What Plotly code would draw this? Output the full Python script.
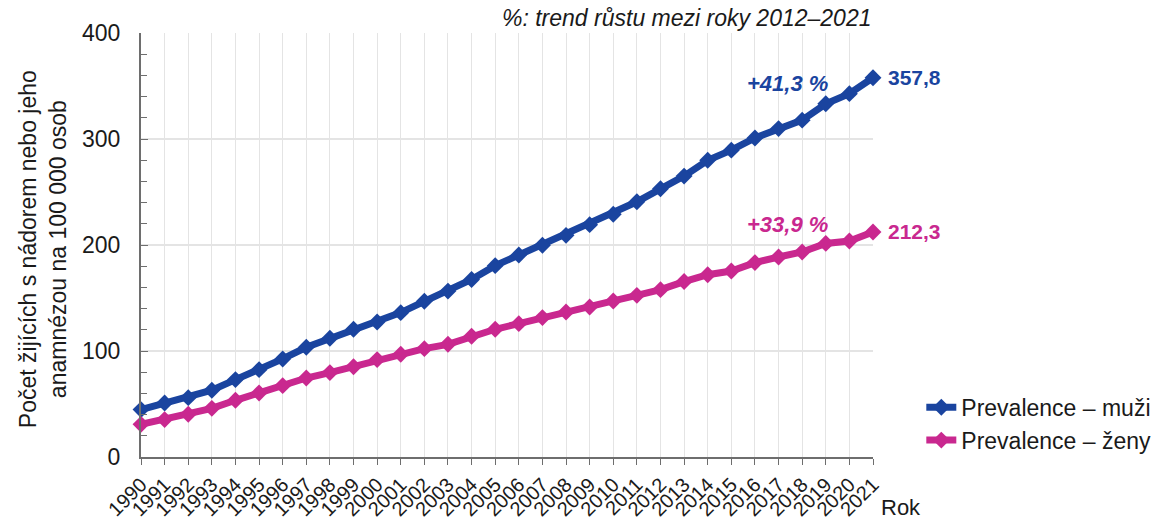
import plotly.graph_objects as go

years = list(range(1990, 2022))

prevalence_muzi = [44.7, 51.0, 56.0, 63.0, 73.0, 82.4, 92.5, 103.5, 112.0, 120.5,
                   127.4, 136.2, 146.9, 156.5, 167.5, 180.5, 190.5, 199.7, 209.1, 219.2,
                   229.0, 240.8, 253.0, 265.0, 279.9, 289.5, 301.0, 309.8, 317.8, 333.2,
                   342.8, 357.8]

prevalence_zeny = [30.8, 35.3, 40.3, 45.9, 53.5, 60.4, 67.3, 74.5, 79.6, 85.2,
                   91.9, 96.9, 102.2, 106.3, 113.9, 120.5, 125.8, 131.5, 136.8, 141.5,
                   147.2, 152.5, 157.9, 165.5, 172.0, 175.5, 183.4, 188.7, 193.4, 201.5,
                   203.8, 212.3]

trend_muzi = "+41,3 %"
trend_zeny = "+33,9 %"

BLUE = "#1A449F"
PINK = "#C9288F"
TEXT = "#1a1a1a"
FONT = "Arial, Liberation Sans, sans-serif"


def cz(v):
    return f"{v:.1f}".replace(".", ",")


fig = go.Figure()
fig.add_trace(go.Scatter(
    x=years, y=prevalence_muzi, mode="lines+markers", name="Prevalence – muži",
    line=dict(color=BLUE, width=7), marker=dict(symbol="diamond", size=13, color=BLUE),
    cliponaxis=False))
fig.add_trace(go.Scatter(
    x=years, y=prevalence_zeny, mode="lines+markers", name="Prevalence – ženy",
    line=dict(color=PINK, width=7), marker=dict(symbol="diamond", size=13, color=PINK),
    cliponaxis=False))

annotations = [
    dict(x=years[-1], y=prevalence_muzi[-1], text=f"<b>{cz(prevalence_muzi[-1])}</b>",
         xanchor="left", yanchor="middle", xshift=13, showarrow=False,
         font=dict(size=21, color=BLUE, family=FONT)),
    dict(x=years[-1], y=prevalence_zeny[-1], text=f"<b>{cz(prevalence_zeny[-1])}</b>",
         xanchor="left", yanchor="middle", xshift=13, showarrow=False,
         font=dict(size=21, color=PINK, family=FONT)),
    dict(x=2017.4, y=352, text=f"<b><i>{trend_muzi}</i></b>", xanchor="center", yanchor="middle",
         showarrow=False, font=dict(size=22, color=BLUE, family=FONT)),
    dict(x=2017.4, y=219, text=f"<b><i>{trend_zeny}</i></b>", xanchor="center", yanchor="middle",
         showarrow=False, font=dict(size=22, color=PINK, family=FONT)),
    dict(x=1.0, xref="paper", y=1.035, yref="paper", text="<i>%: trend růstu mezi roky 2012–2021</i>",
         xanchor="right", yanchor="middle", showarrow=False,
         font=dict(size=23, color=TEXT, family=FONT)),
    dict(x=-0.134, xref="paper", y=0.49, yref="paper",
         text="Počet žijících s nádorem nebo jeho<br>anamnézou na 100 000 osob",
         textangle=-90, xanchor="center", yanchor="middle", showarrow=False,
         font=dict(size=23, color=TEXT, family=FONT)),
    dict(x=1.008, xref="paper", y=-0.12, yref="paper", text="Rok",
         xanchor="left", yanchor="middle", showarrow=False,
         font=dict(size=22, color=TEXT, family=FONT)),
]

fig.update_layout(
    width=1171, height=519,
    margin=dict(l=141, r=298, t=33, b=62, autoexpand=False),
    paper_bgcolor="white", plot_bgcolor="white",
    font=dict(family=FONT, color=TEXT),
    annotations=annotations,
    legend=dict(x=1.066, y=0.168, xanchor="left", yanchor="top",
                font=dict(size=23, color=TEXT, family=FONT),
                bgcolor="rgba(0,0,0,0)", tracegroupgap=0),
    showlegend=True,
)

fig.update_xaxes(
    range=[1990, 2021], tickmode="array", tickvals=years, ticktext=[str(y) for y in years],
    tickangle=-45, tickfont=dict(size=20, color=TEXT), automargin=False,
    showgrid=True, gridcolor="#e4e4e4", gridwidth=1,
    showline=True, linecolor="#6e6e6e", linewidth=2,
    ticks="outside", ticklen=6, tickcolor="#6e6e6e", zeroline=False,
)
fig.update_yaxes(
    range=[0, 400], tickvals=[0, 100, 200, 300, 400],
    tickfont=dict(size=23, color=TEXT), automargin=False,
    ticklabelstandoff=14,
    showgrid=True, gridcolor="#e4e4e4", gridwidth=2,
    showline=True, linecolor="#6e6e6e", linewidth=2,
    ticks="inside", ticklen=7, tickcolor="#6e6e6e", zeroline=False,
    minor=dict(dtick=20, ticks="inside", ticklen=6, tickcolor="#6e6e6e", showgrid=False),
)

fig.write_html("out.html")
